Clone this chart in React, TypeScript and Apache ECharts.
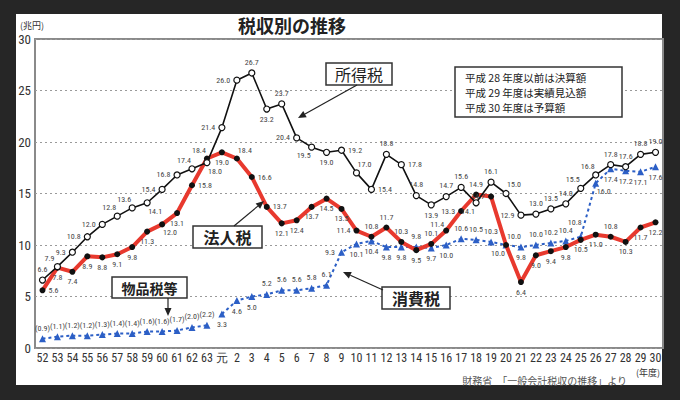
import React, { useEffect, useRef } from 'react';
import * as echarts from 'echarts';

const categories = [
  '52', '53', '54', '55', '56', '57', '58', '59', '60', '61', '62', '63', '元',
  '2', '3', '4', '5', '6', '7', '8', '9', '10', '11', '12', '13', '14', '15', '16',
  '17', '18', '19', '20', '21', '22', '23', '24', '25', '26', '27', '28', '29', '30',
];
const yTicks = [0, 5, 10, 15, 20, 25, 30];

// 所得税
const incomeTax = [
  6.6, 7.9, 9.3, 10.8, 12.0, 12.8, 13.6, 14.1, 15.4, 16.8, 17.4, 18.0, 21.4,
  26.0, 26.7, 23.2, 23.7, 20.4, 19.5, 19.0, 19.2, 17.0, 15.4, 18.8, 17.8, 14.8, 13.9, 14.7,
  15.6, 14.1, 16.1, 15.0, 12.9, 13.0, 13.5, 14.0, 15.5, 16.8, 17.8, 17.6, 18.8, 19.0,
];
// 法人税
const corporateTax = [
  5.6, 7.8, 7.4, 8.9, 8.8, 9.1, 9.8, 11.3, 12.0, 13.1, 15.8, 18.4, 19.0,
  18.4, 16.6, 13.7, 12.1, 12.4, 13.7, 14.5, 13.5, 11.4, 10.8, 11.7, 10.3, 9.5, 10.1, 11.4,
  13.3, 14.9, 14.7, 10.0, 6.4, 9.0, 9.4, 9.8, 10.5, 11.0, 10.8, 10.3, 11.7, 12.2,
];
// 物品税等 (昭和52〜63)
const commodityTax = [0.9, 1.1, 1.2, 1.2, 1.3, 1.4, 1.4, 1.6, 1.6, 1.7, 2.0, 2.2];
// 消費税 (元〜30)
const consumptionTax = [
  3.3, 4.6, 5.0, 5.2, 5.6, 5.6, 5.8, 6.1, 9.3, 10.1, 10.4, 9.8, 9.8, 9.8, 9.7,
  10.0, 10.6, 10.5, 10.3, 10.0, 9.8, 10.0, 10.2, 10.4, 10.8, 16.0, 17.4, 17.2, 17.1, 17.6,
];

const noteLines = ['平成 28 年度以前は決算額', '平成 29 年度は実績見込額', '平成 30 年度は予算額'];

// label placement codes (style only)
const incomePos = [
  't', 'tl', 'l', 'l', 'l', 'tl', 'tl', 'br', 'l', 'l', 'tl', 'br', 'l',
  'l', 't', 'b', 't', 'l', 'bl', 'b', 'r', 'tr', 'r', 't', 'r', 't', 'b', 't',
  't', 'bl', 't', 'tr', 'l', 't', 't', 't', 'tl', 'tl', 't', 't', 't', 't',
];
const corpPos = [
  'r', 'b', 'b', 'b', 'b', 'b', 'b', 'b', 'br', 'b', 'r', 'tl', 'b',
  'tr', 'r', 'r', 'b', 'b', 'b', 'b', 'b', 'l', 't', 't', 't', 'b', 't', 'tl3',
  'l', 't', 'l', 'bl', 'b', 'b', 'b', 'b', 'b', 'b', 't', 'b', 'b', 'b',
];
const consPos = [
  'b', 'b', 'b', 't', 't', 't', 't', 't', 'l', 'b', 'b', 'b', 'b', 't', 'b',
  'b', 't', 't', 't', 'tr', 'b', 't', 't', 't', 'tl2', 'br', 'b', 'b', 'b', 'b',
];

const NUM_FONT = '"Liberation Sans Narrow", "Roboto Condensed", "Liberation Sans", Arial, sans-serif';
const JP_FONT = '"Noto Sans CJK JP", "Noto Sans CJK SC", sans-serif';

function lbl(code: string) {
  const map: Record<string, any> = {
    t: { position: 'top' },
    b: { position: 'bottom' },
    l: { position: 'left' },
    r: { position: 'right' },
    tl: { position: 'top', offset: [-8, 2] },
    tl2: { position: 'top', offset: [-6, -4] },
    tl3: { position: 'top', offset: [-9, 4] },
    tr: { position: 'top', offset: [8, 2] },
    bl: { position: 'bottom', offset: [-8, -2] },
    br: { position: 'bottom', offset: [8, -2] },
  };
  return map[code] || { position: 'top' };
}

function arrow(x1: number, y1: number, x2: number, y2: number) {
  const a = Math.atan2(y2 - y1, x2 - x1);
  const L = 8;
  const W = 3.5;
  const bx = x2 - L * Math.cos(a);
  const by = y2 - L * Math.sin(a);
  const px = -Math.sin(a) * W;
  const py = Math.cos(a) * W;
  return [
    {
      type: 'line',
      z: 100,
      shape: { x1, y1, x2: bx, y2: by },
      style: { stroke: '#222', lineWidth: 1.2 },
    },
    {
      type: 'polygon',
      z: 100,
      shape: { points: [[x2, y2], [bx + px, by + py], [bx - px, by - py]] },
      style: { fill: '#222' },
    },
  ];
}

function box(x: number, y: number, w: number, h: number, text: string, size: number, weight: string) {
  return [
    {
      type: 'rect',
      z: 100,
      shape: { x, y, width: w, height: h },
      style: { fill: '#fff', stroke: '#333', lineWidth: 1.5 },
    },
    {
      type: 'text',
      z: 101,
      style: {
        text,
        x: x + w / 2,
        y: y + h / 2,
        textAlign: 'center',
        textVerticalAlign: 'middle',
        fill: '#222',
        fontSize: size,
        fontWeight: weight,
        fontFamily: JP_FONT,
      },
    },
  ];
}

export default function App() {
  const ref = useRef<HTMLDivElement>(null);
  useEffect(() => {
    const chart = echarts.init(ref.current!, null, { renderer: 'svg' });
    const labelBase = {
      show: true,
      fontSize: 8,
      color: '#444',
      distance: 3,
      fontFamily: NUM_FONT,
    };
    const incomeData = incomeTax.map((v, i) => ({ value: v, label: lbl(incomePos[i]) }));
    const corpData = corporateTax.map((v, i) => ({ value: v, label: lbl(corpPos[i]) }));
    const commodityData: any[] = commodityTax.map((v) => ({ value: v, label: { position: 'top' } }));
    while (commodityData.length < categories.length) commodityData.push('-');
    const consData: any[] = [];
    const offset = categories.length - consumptionTax.length;
    for (let i = 0; i < offset; i++) consData.push('-');
    consumptionTax.forEach((v, i) => consData.push({ value: v, label: lbl(consPos[i]) }));

    const blue = '#2c5fc6';

    const noteTexts = noteLines.map((t, i) => ({
      type: 'text',
      z: 101,
      style: {
        text: t,
        x: 465,
        y: 77 + i * 15,
        textVerticalAlign: 'middle',
        fill: '#222',
        fontSize: 10.5,
        fontFamily: JP_FONT,
      },
    }));

    const option: any = {
      animation: false,
      backgroundColor: '#262626',
      grid: {
        left: 35,
        right: 17,
        top: 39,
        bottom: 52,
        show: true,
        borderColor: '#8a8a8a',
        borderWidth: 2,
        backgroundColor: '#fff',
      },
      xAxis: {
        type: 'category',
        data: categories,
        boundaryGap: true,
        axisLine: { show: false },
        axisTick: { show: false },
        axisLabel: {
          interval: 0,
          fontSize: 12,
          color: '#333',
          margin: 4,
          fontFamily: NUM_FONT,
        },
        splitLine: { show: false },
      },
      yAxis: {
        type: 'value',
        min: yTicks[0],
        max: yTicks[yTicks.length - 1],
        interval: 5,
        axisLine: { show: false },
        axisTick: { show: false },
        axisLabel: { fontSize: 13, color: '#333', margin: 4, fontFamily: NUM_FONT },
        splitLine: { show: true, lineStyle: { color: '#9a9a9a', type: [2, 3], width: 1 } },
      },
      series: [
        {
          name: '物品税等',
          type: 'line',
          data: commodityData,
          symbol: 'triangle',
          symbolSize: 7,
          itemStyle: { color: blue },
          lineStyle: { color: blue, width: 2, type: [3, 3] },
          label: { ...labelBase, formatter: (p: any) => '(' + Number(p.value).toFixed(1) + ')' },
          z: 2,
        },
        {
          name: '消費税',
          type: 'line',
          data: consData,
          symbol: 'triangle',
          symbolSize: 7,
          itemStyle: { color: blue },
          lineStyle: { color: blue, width: 2, type: [3, 3] },
          label: { ...labelBase, formatter: (p: any) => Number(p.value).toFixed(1) },
          z: 2,
        },
        {
          name: '法人税',
          type: 'line',
          data: corpData,
          symbol: 'circle',
          symbolSize: 6,
          itemStyle: { color: '#111' },
          lineStyle: { color: '#e8392e', width: 4 },
          label: { ...labelBase, formatter: (p: any) => Number(p.value).toFixed(1) },
          z: 3,
        },
        {
          name: '所得税',
          type: 'line',
          data: incomeData,
          symbol: 'circle',
          symbolSize: 6,
          itemStyle: { color: '#fff', borderColor: '#111', borderWidth: 1.2 },
          lineStyle: { color: '#111', width: 1.6 },
          label: { ...labelBase, formatter: (p: any) => Number(p.value).toFixed(1) },
          z: 4,
        },
      ],
      graphic: {
        elements: [
          {
            type: 'rect',
            z: -100,
            silent: true,
            shape: { x: 16, y: 14, width: 646, height: 371 },
            style: { fill: '#fff' },
          },
          {
            type: 'text',
            z: 100,
            style: {
              text: '税収別の推移',
              x: 292,
              y: 25,
              textAlign: 'center',
              textVerticalAlign: 'middle',
              fill: '#222',
              fontSize: 18,
              fontWeight: 'bold',
              fontFamily: JP_FONT,
            },
          },
          {
            type: 'text',
            z: 100,
            style: {
              text: '(兆円)',
              x: 20,
              y: 25,
              textVerticalAlign: 'middle',
              fill: '#333',
              fontSize: 9,
              fontFamily: JP_FONT,
            },
          },
          {
            type: 'text',
            z: 100,
            style: {
              text: '(年度)',
              x: 660,
              y: 372,
              textAlign: 'right',
              textVerticalAlign: 'middle',
              fill: '#333',
              fontSize: 9,
              fontFamily: JP_FONT,
            },
          },
          {
            type: 'text',
            z: 100,
            style: {
              text: '財務省　「一般会計税収の推移」より',
              x: 627,
              y: 380,
              textAlign: 'right',
              textVerticalAlign: 'middle',
              fill: '#555',
              fontSize: 10,
              fontFamily: JP_FONT,
            },
          },
          {
            type: 'rect',
            z: 100,
            shape: { x: 455, y: 67, width: 167, height: 50 },
            style: { fill: '#fff', stroke: '#333', lineWidth: 1.5 },
          },
          ...noteTexts,
          ...box(326, 63, 66, 22, '所得税', 16, 'normal'),
          ...arrow(357, 85, 298, 118),
          ...box(193, 226, 69, 22, '法人税', 16, 'bold'),
          ...arrow(234, 226, 264, 201),
          ...box(112, 277, 75, 21, '物品税等', 14, 'bold'),
          ...arrow(168, 298, 168, 316),
          ...box(382, 287, 68, 22, '消費税', 16, 'bold'),
          ...arrow(383, 290, 343, 272),
        ],
      },
    };
    chart.setOption(option);
    return () => chart.dispose();
  }, []);
  return <div ref={ref} style={{ position: 'fixed', left: 0, top: 0, width: 680, height: 400 }} />;
}
